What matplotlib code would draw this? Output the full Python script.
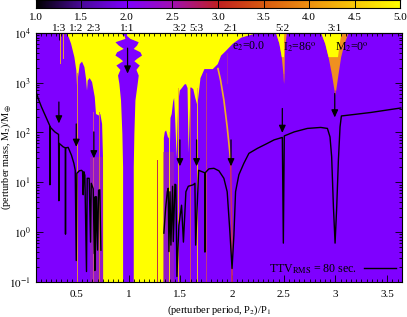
# TTV stability map, perturber period against perturber mass
import numpy as np
import matplotlib
matplotlib.use("Agg")
import matplotlib.pyplot as plt
from matplotlib.colors import LinearSegmentedColormap
from matplotlib.ticker import FixedLocator, NullFormatter, MultipleLocator

plt.rcParams['font.family'] = ['Liberation Serif', 'DejaVu Serif']
plt.rcParams['mathtext.fontset'] = 'stix'
plt.rcParams['font.size'] = 8

PURPLE = '#7f00ff'
YELLOW = '#ffff00'

# colour scale
cbar_values = [1.0, 1.5, 2.0, 2.5, 3.0, 3.5, 4.0, 4.5, 5.0]
cbar_colors = ['#000000', '#4a0a9a', '#7f00ff', '#a010b0', '#c02020', '#d85a10', '#ee9010', '#f8c808', '#ffff00']

# lower edge of the yellow (unstable) area, masses as log10
edge_period = [0.390, 0.416, 0.439, 0.471, 0.490, 0.500, 0.506, 0.523, 0.545, 0.568, 0.584, 0.593, 0.600, 0.619, 0.642,
               0.668, 0.680, 0.706, 0.722, 0.739, 0.748, 0.749, 1.335, 1.336, 1.345, 1.358, 1.376, 1.385, 1.390,
               1.400, 1.412, 1.425, 1.435, 1.445, 1.460, 1.474, 1.490, 1.510, 1.535, 1.550, 1.565, 1.575, 1.595,
               1.620, 1.640, 1.660, 1.690, 1.728, 1.809, 1.857, 1.889, 1.938, 2.003, 2.083, 2.180, 2.245]
edge_mass = [4.0, 3.92, 3.79, 3.52, 3.25, 2.78, 3.12, 3.38, 3.43, 3.32, 3.08, 2.85, 3.05, 3.10, 3.02,
             2.72, 2.38, 2.35, 2.38, 2.18, 1.48, -1.0, -1.0, 1.90, 2.02, 2.05, 1.91, 1.90, 1.20,
             2.30, 2.38, 2.62, 2.70, 2.30, 1.50, 2.60, 2.85, 2.90, 2.97, 2.98, 2.90, 1.60, 2.92,
             2.88, 2.70, 2.55, 3.10, 3.28, 3.28, 3.38, 3.55, 3.65, 3.79, 3.91, 3.97, 4.0]

# purple island round the 1:1 resonance
island_mass = [4.0, 3.946, 3.886, 3.819, 3.752, 3.685, 3.618, 3.552, 3.485, 3.438, 3.351, 3.264, 3.15, 2.983,
               2.648, 1.979, 1.309, -1.0]
island_left = [0.916, 0.955, 0.964, 0.868, 0.900, 0.948, 0.884, 0.868, 0.916, 0.942, 0.877, 0.916, 0.893, 0.906,
               0.922, 0.935, 0.942, 0.942]
island_right = [0.980, 0.980, 1.013, 1.093, 1.077, 1.045, 1.109, 1.125, 1.077, 1.051, 1.103, 1.071, 1.093, 1.083,
                1.061, 1.051, 1.045, 1.045]

# tongues at 5:2 and 3:1
tongue52_mass = [4.0, 3.79, 3.52, 3.18, 2.98]
tongue52_left = [2.421, 2.453, 2.476, 2.492, 2.498]
tongue52_right = [2.525, 2.512, 2.505, 2.503, 2.498]
tongue31_mass = [4.0, 3.79, 3.52, 3.18, 2.85, 2.75]
tongue31_left = [2.857, 2.896, 2.928, 2.960, 2.986, 2.993]
tongue31_right = [3.121, 3.083, 3.050, 3.025, 3.002, 2.993]

# strand running down to 2:1
strand_period = [1.864, 1.889, 1.921, 1.953, 1.973, 1.986, 1.998, 2.000]
strand_mass = [3.28, 3.05, 2.65, 2.11, 1.71, 1.44, 0.0, -1.0]

# thin resonance streaks: period, top and bottom (log10 mass), colour
streak_period = [0.340, 0.368, 0.497, 0.660, 0.713, 1.270, 1.393, 1.474, 1.593, 1.657, 1.744, 1.950]
streak_top = [4.0, 4.0, 3.2, 2.4, 2.4, 1.45, 2.0, 2.9, 2.9, 2.9, 3.2, 3.6]
streak_bottom = [3.4, 3.5, -1.0, -1.0, -1.0, -1.0, -1.0, -1.0, -1.0, -1.0, -1.0, 3.0]
streak_colors = ['#e8a030', '#e8a030', '#e09040', '#c85090', '#d87840', '#c02850', '#f0d020', '#f0b020', '#d05060',
                 '#f0c020', '#c03880', '#a020c0']

# TTV_RMS = 80 sec curve
ttv_period = [0.100, 0.126, 0.158, 0.207, 0.239, 0.2395, 0.240, 0.287, 0.323, 0.326, 0.329, 0.368, 0.389, 0.390, 0.391,
              0.416, 0.448, 0.471, 0.484, 0.494, 0.500, 0.523, 0.545, 0.555, 0.561, 0.568, 0.577, 0.593, 0.600,
              0.619, 0.632, 0.639, 0.658, 0.668, 0.677, 0.674, 0.690, 0.700, 0.710, 0.722, 0.732]
ttv_mass = [2.85, 2.68, 2.51, 2.28, 2.13, 0.95, 2.11, 2.01, 1.96, 0.63, 1.78, 1.71, 1.69, -0.04, 1.69,
            1.70, 1.54, 1.38, 1.24, -0.57, 1.18, 1.23, 1.24, 1.22, 0.75, 1.21, 1.14, -0.79, 1.08,
            1.08, -0.20, 0.98, 0.87, -0.43, 0.71, -0.77, 0.71, -0.36, 0.84, 0.85, -0.36]
ttv2_period = [1.341, 1.358, 1.374, 1.383, 1.390, 1.400, 1.409, 1.425, 1.432, 1.448, 1.457, 1.467, 1.486, 1.512,
               1.530, 1.554, 1.577, 1.625, 1.641, 1.648, 1.677, 1.737, 1.738, 1.740, 1.777, 1.825, 1.873, 1.921,
               1.953, 1.979, 2.000, 2.018, 2.034, 2.066, 2.114, 2.163, 2.245, 2.341, 2.406, 2.486, 2.496, 2.505,
               2.600, 2.728, 2.857, 2.922, 2.947, 2.963, 2.980, 2.996, 3.012, 3.028, 3.044, 3.057, 3.180, 3.341,
               3.534, 3.631]
ttv2_mass = [-0.02, 0.48, 0.81, 0.88, -0.39, 0.81, -0.26, 0.92, -0.19, 0.96, 0.95, -0.89, 0.14, 0.54,
             -0.20, 0.81, 0.92, 0.95, 0.98, -0.26, 1.24, 1.19, -0.40, 1.19, 1.27, 1.28, 1.23, 1.08,
             0.81, 0.01, -0.73, -0.06, 0.81, 1.15, 1.38, 1.58, 1.68, 1.78, 1.85, 1.90, -0.22, 1.93,
             2.01, 2.08, 2.10, 2.08, 1.91, 1.51, 0.51, -0.22, 0.51, 1.44, 2.11, 2.33, 2.36, 2.40,
             2.46, 2.49]

# resonances on the top axis, with arrows below them
res_labels = ['1:3', '1:2', '2:3', '1:1', '3:2', '5:3', '2:1', '5:2', '3:1']
res_period = [0.326, 0.494, 0.664, 0.990, 1.496, 1.657, 1.990, 2.486, 2.993]
arrow_from = [2.61, 2.17, 2.01, 3.69, 1.85, 1.85, 1.85, 2.48, 2.78]
arrow_to = [2.18, 1.71, 1.48, 3.18, 1.32, 1.32, 1.32, 1.99, 2.30]

x_ticks = [0.5, 1, 1.5, 2, 2.5, 3, 3.5]
x_labels = ['0.5', '1', '1.5', '2', '2.5', '3', '3.5']

W, H = 407, 317
fig = plt.figure(figsize=(W / 100, H / 100), dpi=100)
ax = fig.add_axes([35.5 / W, 1 - 282 / H, 366.5 / W, 249.3 / H])
ax.set_facecolor(PURPLE)
cmap = LinearSegmentedColormap.from_list('ttv', [((v - 1) / 4, c) for v, c in zip(cbar_values, cbar_colors)])

ax.set_yscale('log')

# yellow part, everything above the edge
ax.fill_between(edge_period, 10 ** np.array(edge_mass), 1e4, color=YELLOW, lw=0)
ax.fill_betweenx(10 ** np.array(island_mass), island_left, island_right, color=PURPLE, lw=0)

# mixed zones next to the yellow area
ax.axvspan(0.625, 0.748, ymax=0.5, color='#a83090', alpha=0.5, lw=0)
ax.axvspan(1.335, 1.440, ymax=0.52, color='#a83090', alpha=0.5, lw=0)

for p, t, b, c in zip(streak_period, streak_top, streak_bottom, streak_colors):
    ax.plot([p, p], [10 ** b, 10 ** t], color=c, lw=0.7)
ax.plot(strand_period[:6], 10 ** np.array(strand_mass[:6]), color='#f0b020', lw=1.2)
ax.plot(strand_period[5:], 10 ** np.array(strand_mass[5:]), color='#c83060', lw=1.2)

for mass, left, right in [(tongue52_mass, tongue52_left, tongue52_right),
                          (tongue31_mass, tongue31_left, tongue31_right)]:
    m = 10 ** np.array(mass)
    lf = np.array(left)
    rt = np.array(right)
    ax.fill_betweenx(m, lf, rt, color='#f09020', lw=0)
    ax.fill_betweenx(m[:3], lf[:3], (lf + (rt - lf) * 0.75)[:3], color=YELLOW, lw=0)
    ax.fill_betweenx(m[-2:], lf[-2:], rt[-2:], color='#c03880', lw=0)

line_black, = ax.plot(ttv_period, 10 ** np.array(ttv_mass), color='k', lw=1.0)
ax.plot(ttv2_period, 10 ** np.array(ttv2_mass), color='k', lw=1.0)

for p, a, b in zip(res_period, arrow_from, arrow_to):
    ax.annotate('', xy=(p, 10 ** b), xytext=(p, 10 ** a),
                arrowprops=dict(arrowstyle='-|>,head_width=0.25,head_length=0.55', color='k', lw=0.9, shrinkA=0, shrinkB=0))

ax.set_xlim(0.1, 3.643)
ax.set_ylim(0.1, 1e4)
ax.set_xticks(x_ticks)
ax.set_xticklabels(x_labels)
ax.xaxis.set_minor_locator(MultipleLocator(0.05))
ax.yaxis.set_major_locator(FixedLocator([0.1, 1, 10, 100, 1000, 1e4]))
ax.yaxis.set_minor_locator(FixedLocator([k * 10.0 ** e for e in range(-1, 4) for k in range(2, 10)]))
ax.yaxis.set_minor_formatter(NullFormatter())
ax.set_yticklabels(['$10^{-1}$', '$10^{0}$', '$10^{1}$', '$10^{2}$', '$10^{3}$', '$10^{4}$'])
ax.tick_params(which='major', direction='in', length=5, width=0.6, right=True, pad=6)
ax.tick_params(which='minor', direction='in', length=2.5, width=0.6, right=True, top=True)
ax.tick_params(axis='y', which='major', pad=3.5, labelsize=8)
for s in ax.spines.values():
    s.set_linewidth(0.8)
ax.set_xlabel('(perturber period, P$_2$)/P$_1$', fontsize=7.6, labelpad=3)
ax.set_ylabel('(perturber mass, M$_2$)/M$_{\\oplus}$', fontsize=7.4)
ax.yaxis.set_label_coords(-0.058, 0.5)

top = ax.secondary_xaxis('top')
top.set_xticks(res_period)
top.set_xticklabels(res_labels)
top.tick_params(direction='in', length=5, width=0.6, pad=-0.5)
top.spines['top'].set_linewidth(0.8)

ax.text(2.002, 10 ** 3.72, 'e$_2$=0.0', ha='left', va='center', fontsize=8.5)
ax.text(2.495, 10 ** 3.72, 'I$_2$=86$^{\\rm o}$', ha='left', va='center', fontsize=8.5)
ax.text(2.995, 10 ** 3.72, 'M$_2$=0$^{\\rm o}$', ha='left', va='center', fontsize=8.5)

ax.legend([line_black], ['TTV$_{\\rm RMS}$ = 80 sec.'], loc='lower right', frameon=False, handlelength=2.7,
          borderaxespad=0.1, markerfirst=False, handletextpad=0.6, fontsize=8.6)

# colour bar on top
cax = fig.add_axes([35.7 / W, 1 - 8.3 / H, 364.5 / W, 8.3 / H])
cax.imshow(np.linspace(1, 5, 256)[None, :], cmap=cmap, aspect='auto', extent=[1, 5, 0, 1], vmin=1, vmax=5)
cax.set_yticks([])
cax.set_xticks(cbar_values)
cax.set_xticklabels(['%.1f' % v for v in cbar_values])
cax.tick_params(axis='x', direction='in', length=8.3, width=0.7, pad=3.5)
for s in cax.spines.values():
    s.set_linewidth(0.8)

fig.savefig('out.png', dpi=100)
